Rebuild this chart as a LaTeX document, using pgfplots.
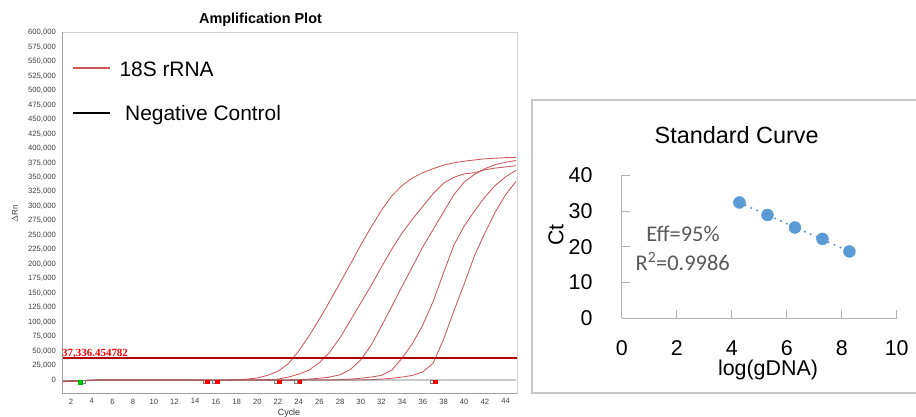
\documentclass[border=0pt]{standalone}
\usepackage{pgfplots}
\pgfplotsset{compat=1.18}
\usepackage{pgfplotstable}
\usepackage{fontspec}
\setmainfont{Liberation Sans}
\newfontfamily\serifb{Liberation Serif}
\newfontfamily\calib{Carlito}
\definecolor{curvered}{RGB}{203,88,90}
\definecolor{thred}{RGB}{178,0,0}
\definecolor{ptblue}{RGB}{91,155,213}
\definecolor{effgray}{RGB}{89,89,89}

\pgfplotstableread{
c   a       b       d       e       f
1   -3000   -3000   -2500   -2500   -2000
2   -2500   -2500   -2000   -2000   -1500
3   -1800   -1500   -1200   -1200   -1000
4   -800    -700    -600    -600    -500
5   0       0       0       0       0
6   0       0       0       0       0
7   0       0       0       0       0
8   0       0       0       0       0
9   0       0       0       0       0
10  0       0       0       0       0
11  0       0       0       0       0
12  0       0       0       0       0
13  0       0       0       0       0
14  0       0       -500    -500    0
15  0       0       -900    -900    0
16  0       0       -900    -900    0
17  0       0       -400    -400    0
18  500     0       0       0       0
19  1500    0       0       0       0
20  3500    0       0       0       0
21  8000    500     0       0       -600
22  15000   1500    0       0       -800
23  28000   5000    0       0       -800
24  50000   10000   500     0       -500
25  76000   17000   1500    0       0
26  105000  30000   3000    0       0
27  136000  48000   5000    0       0
28  168000  73000   9000    500     0
29  200000  103000  18000   1500    0
30  233000  133000  35000   3000    0
31  264000  163000  60000   5000    500
32  293000  195000  93000   8000    1500
33  318000  226000  127000  17000   3000
34  336000  254000  162000  38000   5000
35  349000  278000  196000  63000   8000
36  358000  300000  230000  95000   14000
37  365000  322000  260000  136000  29000
38  371000  340000  290000  185000  70000
39  375000  350000  320000  233000  119000
40  378000  356000  342000  266000  166000
41  380000  358000  355000  292000  215000
42  382000  363000  365000  316000  254000
43  383000  366000  372000  336000  290000
44  384000  368000  376000  351000  320000
45  384500  370000  379000  362000  343000
}\amptable

\pgfplotstableread{
c   v
1   -1500
2   -1500
3   -1000
4   0
10  0
20  0
30  0
40  0
45  0
}\negtable

\begin{document}
\begin{tikzpicture}[x=1bp,y=1bp]
% ---------- Amplification plot ----------
\begin{axis}[
  at={(62bp,23bp)}, anchor=south west, scale only axis,
  width=455bp, height=361bp,
  xmin=1.13, xmax=45.1, ymin=-22500, ymax=601000,
  xtick={2,4,...,44},
  ytick={0,25000,50000,75000,100000,125000,150000,175000,200000,225000,250000,275000,300000,325000,350000,375000,400000,425000,450000,475000,500000,525000,550000,575000,600000},
  scaled y ticks=false,
  /pgf/number format/fixed,
  /pgf/number format/precision=0,
  /pgf/number format/1000 sep={,},
  /pgf/number format/assume math mode=true,
  tick label style={font=\fontsize{7.7}{8}\selectfont, text=black!75},
  yticklabel style={anchor=east, inner sep=0pt, xshift=-6bp},
  xticklabel style={anchor=north, inner sep=0pt, yshift=-5.5bp},
  major tick length=0pt,
  axis line style={black!18, line width=0.9bp},
  clip=true,
]
\addplot[curvered, line width=0.85bp] table[x=c,y=a] {\amptable};
\addplot[curvered, line width=0.85bp] table[x=c,y=b] {\amptable};
\addplot[curvered, line width=0.85bp] table[x=c,y=d] {\amptable};
\addplot[curvered, line width=0.85bp] table[x=c,y=e] {\amptable};
\addplot[curvered, line width=0.85bp] table[x=c,y=f] {\amptable};
\addplot[black!60, line width=0.7bp] table[x=c,y=v] {\negtable};
\addplot[thred, line width=2.2bp] coordinates {(1.13,37336.454782) (45.1,37336.454782)};
% baseline start/end markers
\addplot[only marks, mark=square*, mark size=1.8bp, mark options={fill=white, draw=black!50, line width=0.4bp}]
  coordinates {(3.2,-3000) (14.95,-3000) (15.8,-3000) (21.8,-3000) (23.7,-3000) (36.85,-3000)};
\addplot[only marks, mark=square*, mark size=1.8bp, mark options={fill=red, draw=red}]
  coordinates {(15.15,-3000) (16.1,-3000) (22.1,-3000) (24.1,-3000) (37.2,-3000)};
\addplot[only marks, mark=square*, mark size=2bp, mark options={fill=green!80!black, draw=green!70!black}]
  coordinates {(2.87,-3000)};
\end{axis}
\draw[black!38, line width=1bp] (62,384) -- (62,23) -- (517,23);
\node[anchor=base west, inner sep=0pt, text=red, font=\serifb\bfseries\fontsize{11}{12}\selectfont] at (62,59.5) {37,336.454782};
\node[font=\bfseries\fontsize{14.5}{16}\selectfont] at (260.5,396) {Amplification Plot};
\node[rotate=90, font=\fontsize{8}{9}\selectfont, text=black!80] at (15,202) {$\Delta$Rn};
\node[anchor=base, inner sep=0pt, font=\fontsize{9}{10}\selectfont, text=black!80] at (289,0.5) {Cycle};
% legend
\draw[curvered, line width=2bp] (72.7,348.3) -- (110,348.3);
\node[anchor=base west, inner sep=0pt, font=\fontsize{21}{24}\selectfont] at (119.3,340) {18S rRNA};
\draw[black, line width=2bp] (72.7,303.3) -- (110,303.3);
\node[anchor=base west, inner sep=0pt, font=\fontsize{21}{24}\selectfont] at (125,295.3) {Negative Control};

% ---------- Standard curve ----------
\draw[black!22, line width=1.3bp] (916,316) -- (532,316) -- (532,23) -- (916,23);
\begin{axis}[
  at={(621.7bp,97.7bp)}, anchor=south west, scale only axis,
  width=275bp, height=143bp,
  xmin=0, xmax=10, ymin=0, ymax=40,
  xtick={0,2,4,6,8,10}, ytick={0,10,20,30,40},
  axis x line=bottom, axis y line=left,
  axis line style={-, black!30, line width=1bp},
  tick align=inside, major tick length=8bp,
  tick style={black!30, line width=1bp},
  /pgf/number format/assume math mode=true,
  tick label style={font=\fontsize{21.5}{24}\selectfont},
  xticklabel style={anchor=north, inner sep=0pt, yshift=-22bp},
  yticklabel style={anchor=east, inner sep=0pt, xshift=-29bp},
  clip=false,
]
\addplot[ptblue, line width=2.4bp, line cap=round, dash pattern=on 0bp off 6.5bp]
  coordinates {(4.28,32.35) (8.28,18.72)};
\addplot[only marks, mark=*, mark size=6bp, color=ptblue] coordinates {
  (4.28,32.4) (5.30,28.9) (6.30,25.4) (7.30,22.2) (8.28,18.7)};
\end{axis}
\node[anchor=base, inner sep=0pt, font=\fontsize{23.5}{26}\selectfont] at (736.7,272.7) {Standard Curve};
\node[rotate=90, inner sep=0pt, font=\fontsize{21.5}{24}\selectfont] at (556,181) {Ct};
\node[anchor=base, inner sep=0pt, font=\fontsize{21.5}{24}\selectfont] at (768,41) {log(gDNA)};
\node[anchor=base, inner sep=0pt, text=effgray, font=\calib\fontsize{22.5}{25}\selectfont] at (683,174.3) {Eff=95\%};
\node[anchor=base, inner sep=0pt, text=effgray, font=\calib\fontsize{22.5}{25}\selectfont] at (682.7,146) {R\textsuperscript{2}=0.9986};

\pgfresetboundingbox
\path[use as bounding box] (0,0) rectangle (916,416);
\end{tikzpicture}
\end{document}
